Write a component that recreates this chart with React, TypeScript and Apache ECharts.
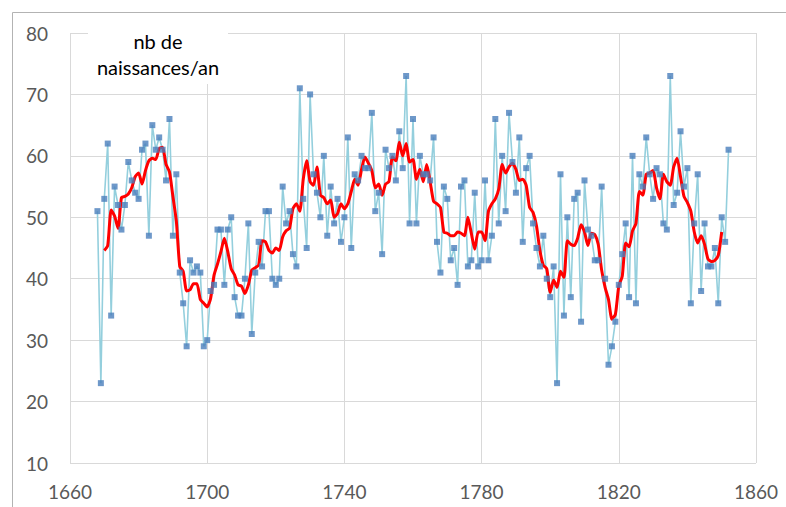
import React, { useEffect, useRef } from "react";
import * as echarts from "echarts";

const FIRST_YEAR = 1668;

// nombre de naissances par an, 1668 → 1852
const births = [
  51, 23, 53, 62, 34, 55, 52, 48, 52, 59, 56, 54, 53, 61, 62, 47, 65, 61, 63, 61, 56, 66, 47, 57, 41,
  36, 29, 43, 41, 42, 41, 29, 30, 38, 39, 48, 48, 39, 48, 50, 37, 34, 34, 40, 49, 31, 41, 46, 42, 51,
  51, 40, 39, 40, 55, 49, 51, 44, 42, 71, 53, 45, 70, 57, 54, 50, 60, 47, 55, 49, 53, 46, 50, 63, 45,
  57, 56, 60, 58, 58, 67, 51, 54, 44, 61, 58, 60, 56, 64, 58, 73, 49, 66, 49, 60, 57, 57, 56, 63, 46,
  41, 55, 53, 43, 45, 39, 55, 56, 42, 43, 54, 42, 43, 56, 43, 47, 66, 49, 60, 51, 67, 59, 54, 63, 46,
  58, 60, 49, 45, 42, 47, 40, 37, 42, 23, 57, 34, 50, 37, 53, 54, 33, 56, 48, 47, 43, 43, 55, 40, 26,
  29, 33, 39, 44, 49, 37, 60, 36, 57, 55, 63, 57, 53, 58, 57, 49, 48, 73, 52, 54, 64, 55, 58, 36, 49,
  57, 38, 49, 42, 42, 45, 36, 50, 46, 61,
];

const xTicks = { min: 1660, max: 1860, interval: 40 };
const yTicks = { min: 10, max: 80, interval: 10 };
const titleLines = ["nb de", "naissances/an"];
const MA_PERIOD = 5; // moyenne mobile centrée (trait rouge)

export default function App() {
  const ref = useRef<HTMLDivElement>(null);
  useEffect(() => {
    if (!ref.current) return;
    const chart = echarts.init(ref.current, null, { renderer: "svg" });
    const points = births.map((v, i) => [FIRST_YEAR + i, v]);
    const half = Math.floor(MA_PERIOD / 2);
    const ma: number[][] = [];
    for (let i = half; i < births.length - half; i++) {
      let s = 0;
      for (let k = i - half; k <= i + half; k++) s += births[k];
      ma.push([FIRST_YEAR + i, s / MA_PERIOD]);
    }
    const font = "Lato, 'Open Sans', sans-serif";
    chart.setOption({
      animation: false,
      grid: { left: 70, right: 30, top: 33, bottom: 44 },
      xAxis: {
        type: "value",
        ...xTicks,
        axisLine: { show: false },
        axisTick: { show: false },
        splitLine: { show: true, lineStyle: { color: "#d9d9d9", width: 1 } },
        axisLabel: {
          color: "#595959",
          fontSize: 19,
          fontFamily: font,
          margin: 19,
          formatter: (v: number) => String(v),
        },
      },
      yAxis: {
        type: "value",
        ...yTicks,
        axisLine: { show: false },
        axisTick: { show: false },
        splitLine: { show: true, lineStyle: { color: "#d9d9d9", width: 1 } },
        axisLabel: { color: "#595959", fontSize: 19, fontFamily: font, margin: 22 },
      },
      series: [
        {
          type: "line",
          data: points,
          symbol: "none",
          lineStyle: { color: "#94cfdd", width: 1.6 },
          z: 2,
        },
        {
          type: "line",
          data: ma,
          symbol: "none",
          smooth: 0.2,
          lineStyle: { color: "#ff0000", width: 3, join: "round" },
          z: 3,
        },
        {
          type: "scatter",
          data: points,
          symbol: "rect",
          symbolSize: 6,
          itemStyle: { color: "#4a7ebb" },
          z: 4,
        },
      ],
      graphic: [
        {
          type: "rect",
          shape: { x: 12.5, y: 12.5, width: 800, height: 600 },
          style: { fill: "none", stroke: "#b3b3b3", lineWidth: 1 },
          z: 0,
          silent: true,
        },
        {
          type: "rect",
          shape: { x: 88, y: 22, width: 140, height: 62 },
          style: { fill: "#ffffff" },
          z: 100,
          silent: true,
        },
        {
          type: "text",
          x: 158,
          y: 41,
          style: {
            text: titleLines[0],
            fontSize: 20,
            fontFamily: font,
            fill: "#000000",
            align: "center",
            verticalAlign: "middle",
          },
          z: 101,
        },
        {
          type: "text",
          x: 158,
          y: 67,
          style: {
            text: titleLines[1],
            fontSize: 20,
            fontFamily: font,
            fill: "#000000",
            align: "center",
            verticalAlign: "middle",
          },
          z: 101,
        },
      ],
    });
    return () => chart.dispose();
  }, []);
  return (
    <div
      ref={ref}
      style={{ position: "fixed", left: 0, top: 0, width: 786, height: 507, background: "#fff" }}
    />
  );
}
